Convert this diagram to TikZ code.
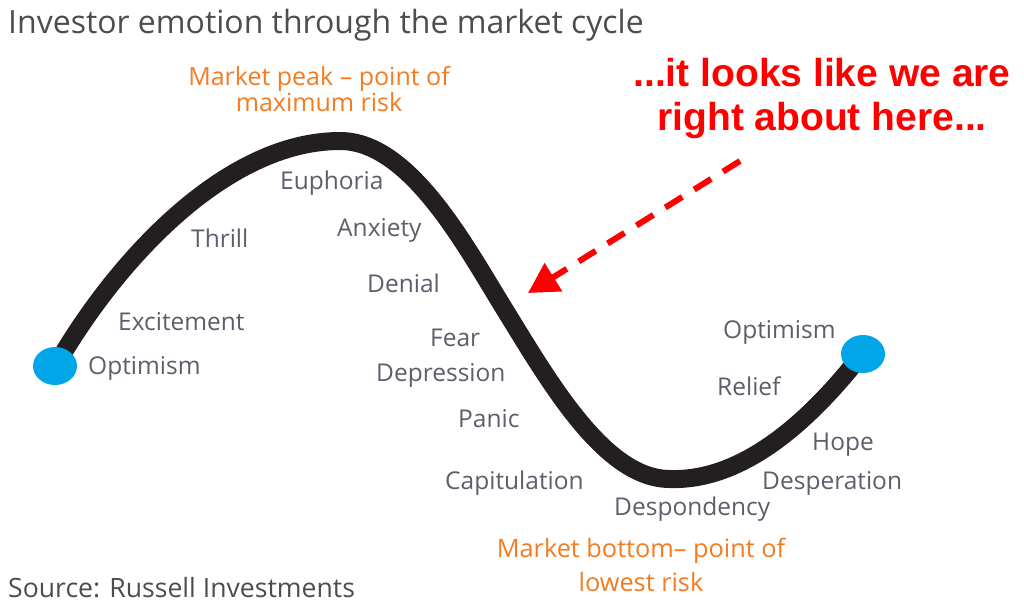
\documentclass[tikz,border=0pt]{standalone}
\usepackage{fontspec}
\setmainfont{Open Sans}
\newfontfamily\arialbold{Liberation Sans}[BoldFont={* Bold}]
\usetikzlibrary{shapes.geometric,arrows.meta}
\definecolor{curveblack}{HTML}{231F20}
\definecolor{dotblue}{HTML}{00A6E8}
\definecolor{labelgray}{HTML}{5C5E6B}
\definecolor{titlegray}{HTML}{4D4D50}
\definecolor{peakorange}{HTML}{F47B20}
\definecolor{callred}{HTML}{FF0000}
\tikzset{
  lbl/.style={anchor=base west, inner sep=0pt, text=labelgray, font=\fontsize{24.5}{26}\selectfont},
  dot/.style={ellipse, fill=dotblue, minimum width=44pt, minimum height=38pt, inner sep=0pt},
  curve/.style={draw=curveblack, line width=18pt, line cap=butt},
  orangelbl/.style={anchor=base, inner sep=0pt, text=peakorange, align=center},
  redlbl/.style={anchor=base, inner sep=0pt, text=callred, align=center},
  callarrow/.style={draw=callred, line width=6pt, dash pattern=on 20pt off 14pt, -{Triangle[length=30pt,width=32pt]}}
}
\begin{document}
\begin{tikzpicture}[x=1pt,y=-1pt]
\useasboundingbox (0,0) rectangle (1024,611);
% title and source
\node[anchor=base west, inner sep=0pt, text=titlegray, font=\fontsize{32}{34}\selectfont] (title) at (8,33) {Investor emotion through the market cycle};
\node[anchor=base west, inner sep=0pt, text=titlegray, font=\fontsize{26.6}{28}\selectfont] (source) at (8,597) {Source: Russell Investments};
% curve
\coordinate (c0) at (55,367);
\coordinate (cpeak) at (340,141);
\coordinate (cinf) at (505,310);
\coordinate (cbot) at (670,479);
\coordinate (cend) at (863,353);
\draw[curve] (c0) .. controls (115,262) and (225,141) .. (cpeak)
  .. controls (410,141) and (466,247) .. (cinf)
  .. controls (550,383) and (605,479) .. (cbot)
  .. controls (760,482) and (835,388) .. (cend);
\node[dot] (s) at (55,366) {};
\node[dot] (e) at (863,354) {};
% labels
\node[lbl] (opt1) at (88,374) {Optimism};
\node[lbl] (exc) at (118,330) {Excitement};
\node[lbl] (thr) at (191,247) {Thrill};
\node[lbl] (eup) at (280,189) {Euphoria};
\node[lbl] (anx) at (337,236) {Anxiety};
\node[lbl] (den) at (367,292) {Denial};
\node[lbl] (fear) at (430,346) {Fear};
\node[lbl] (dep) at (376,381) {Depression};
\node[lbl] (pan) at (458,427) {Panic};
\node[lbl] (cap) at (445,489) {Capitulation};
\node[lbl] (desp) at (614,515) {Despondency};
\node[lbl] (despe) at (762,489) {Desperation};
\node[lbl] (hope) at (812,450) {Hope};
\node[lbl] (rel) at (717,395) {Relief};
\node[lbl] (opt2) at (723,338) {Optimism};
% orange
\node[orangelbl, font=\fontsize{25}{24}\selectfont] (peak) at (319,111) {Market peak -- point of\\maximum risk};
\node[orangelbl, font=\fontsize{25.3}{34}\selectfont] (bottom) at (641,591) {Market bottom-- point of\\lowest risk};
% red callout
\node[redlbl, font=\arialbold\bfseries\fontsize{39}{44}\selectfont] (call) at (822,130) {...it looks like we are\\right about here...};
\coordinate (a1) at (740,161);
\coordinate (a2) at (528,293);
\draw[callarrow] (a1) -- (a2);
\end{tikzpicture}
\end{document}
